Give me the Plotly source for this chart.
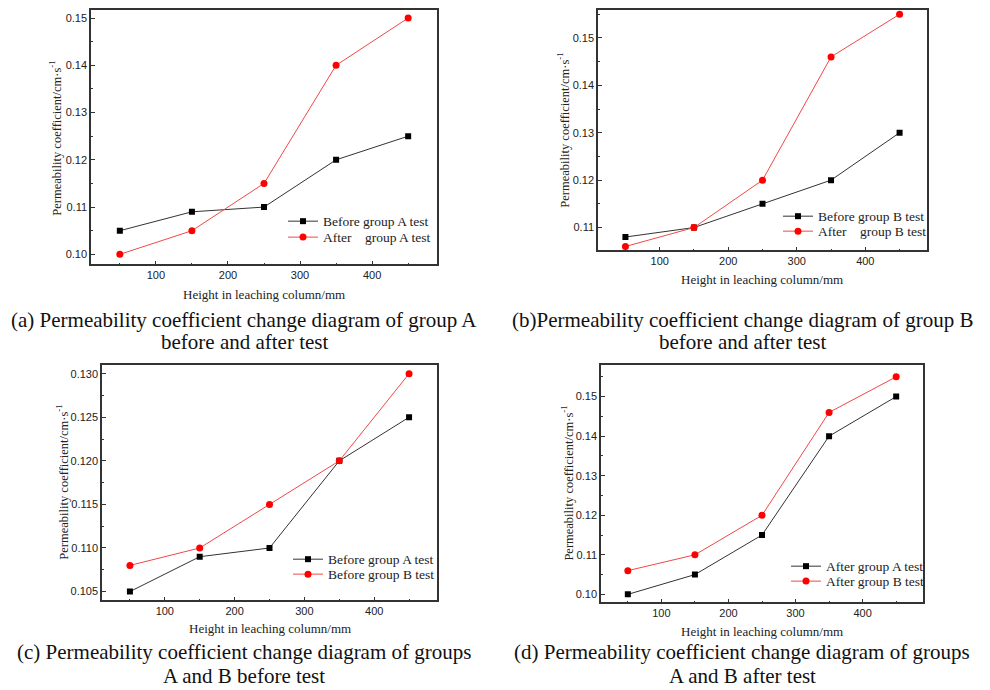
import plotly.graph_objects as go

heights = [50, 150, 250, 350, 450]
before_A = [0.105, 0.109, 0.110, 0.120, 0.125]
after_A = [0.100, 0.105, 0.115, 0.140, 0.150]
before_B = [0.108, 0.110, 0.115, 0.120, 0.130]
after_B = [0.106, 0.110, 0.120, 0.146, 0.155]

W, H = 990, 690
OFF = 8  # page body margin
def px(x): return min(max((x - OFF) / W, 0), 1)
def py(y): return min(max(1 - (y - OFF) / H, 0), 1)

SERIF = "Liberation Serif, Times New Roman, serif"
SANS = "Liberation Sans, Arial, sans-serif"

panels = [
    dict(k=before_A, r=after_A, kn="Before group A test", rn="After\u00a0\u00a0\u00a0\u00a0group A test",
         xd=(91, 437), yd=(263, 8), yr=(0.0979, 0.1517), dt=0.01, fmt=".2f",
         leg=(283, 219, 235), yt=(55, 137), xt=(264, 293),
         cap=("(a) Permeability coefficient change diagram of group A", "before and after test"), capx=244, capy=(319, 341)),
    dict(k=before_B, r=after_B, kn="Before group B test", rn="After\u00a0\u00a0\u00a0\u00a0group B test",
         xd=(598, 927), yd=(249, 8), yr=(0.1052, 0.1559), dt=0.01, fmt=".2f",
         leg=(778, 214, 229), yt=(563, 129), xt=(762, 278),
         cap=("(b)Permeability coefficient change diagram of group B", "before and after test"), capx=742, capy=(319, 341)),
    dict(k=before_A, r=before_B, kn="Before group A test", rn="Before group B test",
         xd=(102, 437), yd=(600, 364), yr=(0.104, 0.131), dt=0.005, fmt=".3f",
         leg=(288, 558, 573), yt=(62, 482), xt=(270, 628),
         cap=("(c) Permeability coefficient change diagram of groups", "A and B before test"), capx=244, capy=(652, 676)),
    dict(k=after_A, r=after_B, kn="After group A test", rn="After group B test",
         xd=(601, 923), yd=(602, 364), yr=(0.098, 0.158), dt=0.01, fmt=".2f",
         leg=(786, 565, 580), yt=(567, 483), xt=(762, 631),
         cap=("(d) Permeability coefficient change diagram of groups", "A and B after test"), capx=742, capy=(652, 676)),
]

fig = go.Figure()
annotations = []
layout = {}
for i, p in enumerate(panels, start=1):
    sfx = "" if i == 1 else str(i)
    lk = "legend" if i == 1 else f"legend{2 * i - 1}"
    lr = f"legend{2 * i}"
    fig.add_trace(go.Scatter(
        x=heights, y=p["k"], mode="lines+markers", name=p["kn"],
        line=dict(color="#333333", width=1),
        marker=dict(symbol="square", size=6, color="black"),
        xaxis=f"x{sfx}", yaxis=f"y{sfx}", legend=lk))
    fig.add_trace(go.Scatter(
        x=heights, y=p["r"], mode="lines+markers", name=p["rn"],
        line=dict(color="#f04848", width=1),
        marker=dict(symbol="circle", size=7, color="#ff0000"),
        xaxis=f"x{sfx}", yaxis=f"y{sfx}", legend=lr))
    common = dict(showgrid=False, zeroline=False, showline=True, linecolor="#333333", linewidth=1.5,
                  mirror=True, ticks="inside", ticklen=4, tickcolor="#333333", tickwidth=1,
                  tickfont=dict(family=SANS, size=11, color="#222222"))
    layout[f"xaxis{sfx}"] = dict(common, domain=[px(p["xd"][0]), px(p["xd"][1])], anchor=f"y{sfx}",
                                 range=[10, 490], tick0=0, dtick=100,
                                 minor=dict(ticks="inside", ticklen=2, tickcolor="#333333", dtick=50, tick0=0))
    layout[f"yaxis{sfx}"] = dict(common, domain=[py(p["yd"][0]), py(p["yd"][1])], anchor=f"x{sfx}",
                                 range=list(p["yr"]), tick0=0, dtick=p["dt"], tickformat=p["fmt"],
                                 minor=dict(ticks="inside", ticklen=2, tickcolor="#333333", dtick=p["dt"] / 2, tick0=0))
    for ln, yy in ((lk, p["leg"][1]), (lr, p["leg"][2])):
        layout[ln] = dict(x=px(p["leg"][0]), y=py(yy + 1), xanchor="left", yanchor="middle",
                          bgcolor="rgba(0,0,0,0)", font=dict(family=SERIF, size=13.5, color="#222222"),
                          itemwidth=30, tracegroupgap=0)
    annotations.append(dict(text="Permeability coefficient/cm·s<sup>-1</sup>", x=px(p["yt"][0]), y=py(p["yt"][1]),
                            xref="paper", yref="paper", showarrow=False, textangle=-90,
                            xanchor="center", yanchor="middle",
                            font=dict(family=SERIF, size=12.5, color="#222222")))
    annotations.append(dict(text="Height in leaching column/mm", x=px(p["xt"][0]), y=py(p["xt"][1]),
                            xref="paper", yref="paper", showarrow=False, xanchor="center", yanchor="middle",
                            font=dict(family=SERIF, size=13, color="#222222")))
    for line, yy in zip(p["cap"], p["capy"]):
        annotations.append(dict(text=line, x=px(p["capx"]), y=py(yy), xref="paper", yref="paper",
                                showarrow=False, xanchor="center", yanchor="middle",
                                font=dict(family=SERIF, size=21, color="#111111")))

fig.update_layout(**layout)
fig.update_layout(width=W, height=H, margin=dict(l=0, r=0, t=0, b=0),
                  paper_bgcolor="white", plot_bgcolor="white", showlegend=True,
                  annotations=annotations)
fig.write_html("out.html")
